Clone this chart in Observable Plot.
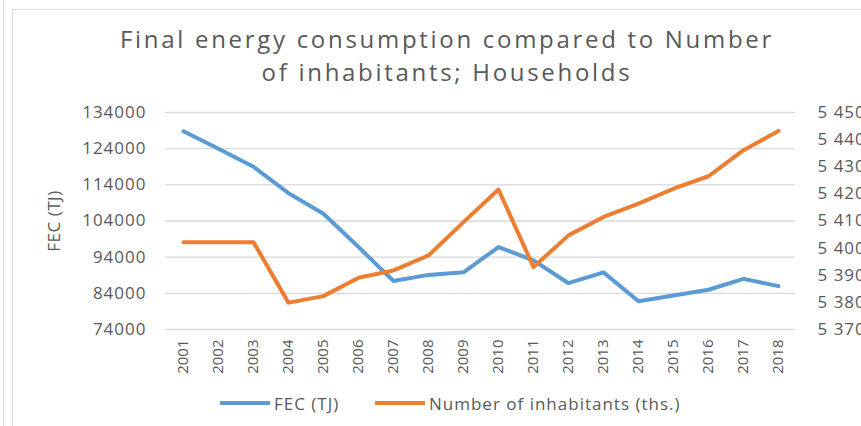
<!DOCTYPE html>
<html><head><meta charset="utf-8">
<script src="https://cdn.jsdelivr.net/npm/d3@7"></script>
<script src="https://cdn.jsdelivr.net/npm/@observablehq/plot@0.6"></script>
<style>
html,body{margin:0;padding:0;background:#fff;}
#wrap{position:relative;width:861px;height:426px;overflow:hidden;font-family:"Open Sans",sans-serif;color:#595959;}
.bl{position:absolute;background:#d9d9d9;}
#title{position:absolute;left:0;width:894px;top:22px;text-align:center;font-size:24px;letter-spacing:2.7px;line-height:33px;white-space:nowrap;}
#chart{position:absolute;left:0;top:0;}
#legend{position:absolute;top:392px;left:0;height:22px;}
.item{position:absolute;top:0;height:22px;display:flex;align-items:center;font-size:17px;letter-spacing:1px;white-space:nowrap;}
.sw{display:inline-block;width:50px;height:4px;margin-right:4px;}
g[aria-label="y-axis tick label"] text{letter-spacing:1px;}
g[aria-label="y-axis label"] text{letter-spacing:0.5px;}
</style>
</head><body>
<div id="wrap">
  <div class="bl" style="left:3px;top:0;width:1px;height:426px;"></div>
  <div class="bl" style="left:12px;top:9px;width:1px;height:417px;"></div>
  <div class="bl" style="left:12px;top:9px;width:849px;height:1px;"></div>
  <div id="title">Final energy consumption compared to Number<br>of inhabitants; Households</div>
  <div id="chart"></div>
  <div id="legend"></div>
</div>
<script>
const years = ["2001","2002","2003","2004","2005","2006","2007","2008","2009","2010","2011","2012","2013","2014","2015","2016","2017","2018"];
const fec = [128800,124000,119000,111700,106000,96800,87400,89100,89800,96800,93100,86800,89800,81800,83400,85000,88000,86000];
const inhabitants = [5402.2,5402.2,5402.2,5379.9,5382.3,5389.1,5391.8,5397.3,5409.6,5421.6,5393.0,5404.7,5411.5,5416.4,5421.9,5426.5,5436.1,5443.2];
const leftTicks = [74000,84000,94000,104000,114000,124000,134000];
const rightTicks = [5370,5380,5390,5400,5410,5420,5430,5440,5450];
const seriesNames = ["FEC (TJ)","Number of inhabitants (ths.)"];
const colors = ["#5b9bd5","#ed7d31"];

// secondary axis maps [5370,5450] onto the primary [74000,134000]
const toLeft = v => 74000 + (v - 5370) * 750;
const fromLeft = d => Math.round((d - 74000) / 750 + 5370);
const fmtRight = v => { const s = String(v); return s[0] + " " + s.slice(1); };

const data = years.map((year, i) => ({year, fec: fec[i], inh: inhabitants[i]}));

const plot = Plot.plot({
  width: 861, height: 390,
  marginLeft: 165, marginRight: 66, marginTop: 112, marginBottom: 61,
  style: {fontFamily: "Open Sans", fontSize: "17px", color: "#595959", background: "transparent", overflow: "visible"},
  x: {type: "point", domain: years, padding: 0.5},
  y: {domain: [74000, 134000]},
  marks: [
    Plot.ruleY(leftTicks, {stroke: "#d9d9d9", strokeWidth: 1.3}),
    Plot.axisY(leftTicks, {tickSize: 0, tickPadding: 19, tickFormat: d3.format("d"), fontSize: 17,
      label: "FEC (TJ)", labelAnchor: "center", labelArrow: "none", labelOffset: 118}),
    Plot.axisY(rightTicks.map(toLeft), {anchor: "right", tickSize: 0, tickPadding: 22, fontSize: 17,
      tickFormat: d => fmtRight(fromLeft(d)), label: null}),
    Plot.axisX({tickSize: 0, tickRotate: -90, tickPadding: 10, fontSize: 15, label: null}),
    Plot.line(data, {x: "year", y: "fec", stroke: colors[0], strokeWidth: 4, strokeLinejoin: "round"}),
    Plot.line(data, {x: "year", y: d => toLeft(d.inh), stroke: colors[1], strokeWidth: 4, strokeLinejoin: "round"})
  ]
});
document.getElementById("chart").appendChild(plot);

const legend = document.getElementById("legend");
const lefts = [220, 375];
seriesNames.forEach((name, i) => {
  const it = document.createElement("div");
  it.className = "item";
  it.style.left = lefts[i] + "px";
  it.innerHTML = `<span class="sw" style="background:${colors[i]}"></span><span>${name}</span>`;
  legend.appendChild(it);
});
</script>
</body></html>
